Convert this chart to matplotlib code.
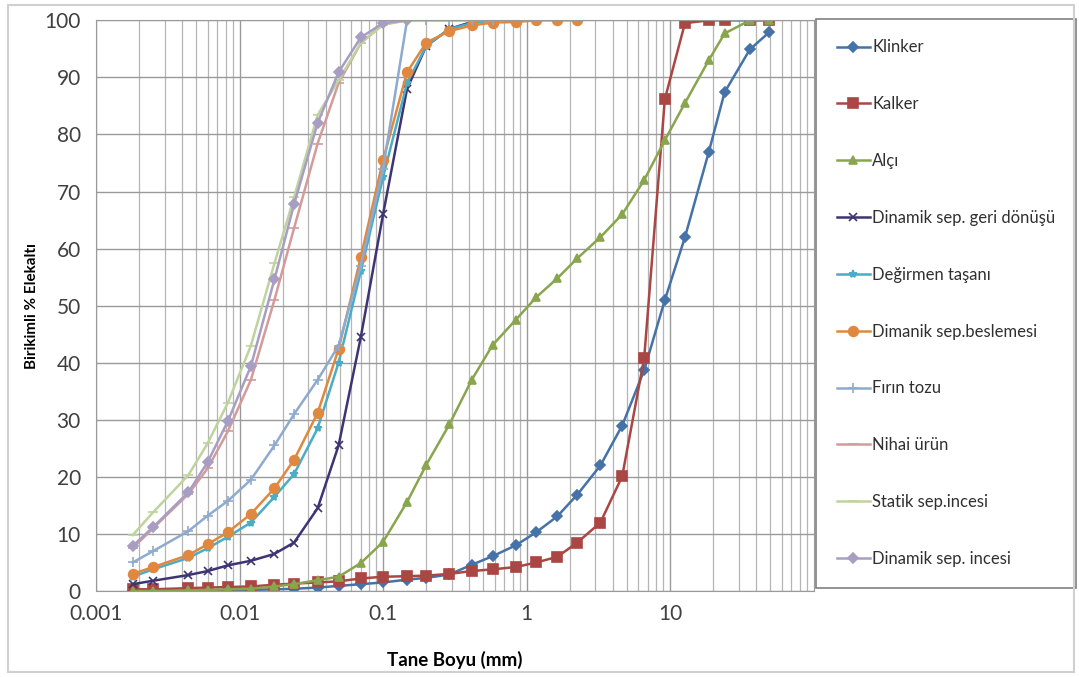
import matplotlib.pyplot as plt
import matplotlib.patches as patches
from matplotlib.ticker import NullFormatter, FixedLocator, LogLocator

plt.rcParams['font.family'] = ['Lato', 'DejaVu Sans']

# particle sizes (mm)
sizes = [0.0018, 0.0025, 0.0044, 0.006, 0.0083, 0.012, 0.0175, 0.024, 0.035, 0.049,
         0.07, 0.1, 0.147, 0.2, 0.29, 0.415, 0.58, 0.84, 1.17, 1.64, 2.26,
         3.27, 4.64, 6.6, 9.2, 12.7, 18.6, 24, 36, 49]

# cumulative passing (%)
klinker = [0, 0, 0.1, 0.1, 0.2, 0.2, 0.3, 0.4, 0.6, 0.9, 1.2, 1.5, 2.0, 2.3, 2.9,
           4.6, 6.1, 8.0, 10.3, 13.1, 16.9, 22.0, 29.0, 38.7, 51.0, 62.0, 76.9,
           87.4, 94.9, 97.9]
kalker = [0.3, 0.3, 0.5, 0.6, 0.7, 0.8, 1.1, 1.3, 1.5, 1.7, 2.2, 2.5, 2.6, 2.7, 3.0,
          3.5, 3.8, 4.2, 5.0, 6.0, 8.5, 12.0, 20.1, 40.8, 86.2, 99.5, 100, 100,
          100, 100]
alci = [0, 0, 0.1, 0.2, 0.3, 0.4, 0.8, 1.2, 1.9, 2.5, 4.9, 8.6, 15.6, 22.1, 29.2,
        37.0, 43.1, 47.5, 51.5, 54.8, 58.3, 62.0, 66.0, 72.0, 79.0, 85.5, 93.0,
        97.7, 100, 100]
geri_donusu = [1.2, 1.8, 2.8, 3.5, 4.5, 5.3, 6.5, 8.5, 14.5, 25.5, 44.5, 66.0,
               88.0, 95.5, 98.5, 99.7, 100]
degirmen = [2.5, 3.8, 5.8, 7.5, 9.5, 12.0, 16.5, 20.5, 28.5, 40.0, 56.0, 72.5,
            89.0, 95.5, 98.5, 99.5, 100]
beslemesi = [3.0, 4.2, 6.3, 8.2, 10.3, 13.5, 18.0, 23.0, 31.2, 42.4, 58.5, 75.5,
             90.9, 96.1, 98.1, 99.1, 99.6, 99.7, 100, 100, 100]
firin = [5.0, 7.0, 10.5, 13.2, 15.8, 19.5, 25.5, 31.0, 37.0, 43.0, 57.0, 74.0,
         100, 100, 100, 100, 100]
nihai = [7.5, 11.0, 17.0, 21.5, 28.0, 37.0, 51.0, 63.6, 78.4, 89.0, 96.0, 99.3, 100]
statik = [9.8, 13.8, 20.3, 25.9, 33.0, 43.0, 57.4, 69.0, 83.4, 89.5, 96.0, 99.2, 100]
din_incesi = [7.9, 11.2, 17.3, 22.6, 29.8, 39.4, 54.6, 67.8, 82.0, 90.9, 97.0,
              99.5, 100]

series = [
    ("Klinker", klinker, '#4572A7', 'D', 5),
    ("Kalker", kalker, '#AA4643', 's', 7),
    ("Alçı", alci, '#89A54E', '^', 6),
    ("Dinamik sep. geri dönüşü", geri_donusu, '#3E3373', 'x', 6),
    ("Değirmen taşanı", degirmen, '#4BACC6', '*', 6),
    ("Dimanik sep.beslemesi", beslemesi, '#E0883F', 'o', 7),
    ("Fırın tozu", firin, '#8FAACF', '+', 7),
    ("Nihai ürün", nihai, '#D39B9A', '_', 7),
    ("Statik sep.incesi", statik, '#BFD39E', '_', 7),
    ("Dinamik sep. incesi", din_incesi, '#A89EC4', 'D', 5),
]

fig = plt.figure(figsize=(10.79, 6.77), dpi=100)
ax = fig.add_axes([0.089, 0.127, 0.665, 0.843])

for name, vals, col, mk, ms in series:
    ax.plot(sizes[:len(vals)], vals, color=col, marker=mk, markersize=ms,
            linewidth=1.8, label=name, markeredgewidth=1.2)

ax.set_xscale('log')
ax.set_xlim(0.001, 100)
ax.set_ylim(0, 100)
ax.xaxis.set_major_locator(FixedLocator([0.001, 0.01, 0.1, 1, 10]))
ax.set_xticklabels(['0.001', '0.01', '0.1', '1', '10'])
ax.xaxis.set_minor_locator(LogLocator(base=10, subs=range(2, 10)))
ax.xaxis.set_minor_formatter(NullFormatter())
ax.set_yticks(range(0, 101, 10))

ax.grid(True, which='major', color='#9a9a9a', linewidth=1.0)
ax.grid(True, which='minor', axis='x', color='#b5b5b5', linewidth=0.9)
ax.set_axisbelow(True)
ax.tick_params(which='both', length=0, labelsize=15, colors='#404040')
ax.tick_params(axis='y', pad=11)
ax.tick_params(axis='x', pad=9)
for s in ax.spines.values():
    s.set_color('#9a9a9a')

ax.set_xlabel('Tane Boyu (mm)', fontsize=13.5, fontweight='bold', labelpad=20)
ax.set_ylabel('Birikimli % Elekaltı', fontsize=11, fontweight='bold', labelpad=4)

leg = ax.legend(loc='upper left', bbox_to_anchor=(1.003, 1.003),
                fontsize=12, frameon=True, fancybox=False, labelspacing=2.45,
                handlelength=2.0, handletextpad=0.15, borderpad=1.25,
                borderaxespad=0)
leg.get_frame().set_edgecolor('#606060')
leg.get_frame().set_linewidth(1.2)
for t in leg.get_texts():
    t.set_color('#303030')

fig.add_artist(patches.Rectangle((0.007, 0.008), 0.988, 0.985,
                                 transform=fig.transFigure, fill=False,
                                 edgecolor='#d0d0d0', linewidth=1.5))

fig.savefig('out.png', dpi=100)
